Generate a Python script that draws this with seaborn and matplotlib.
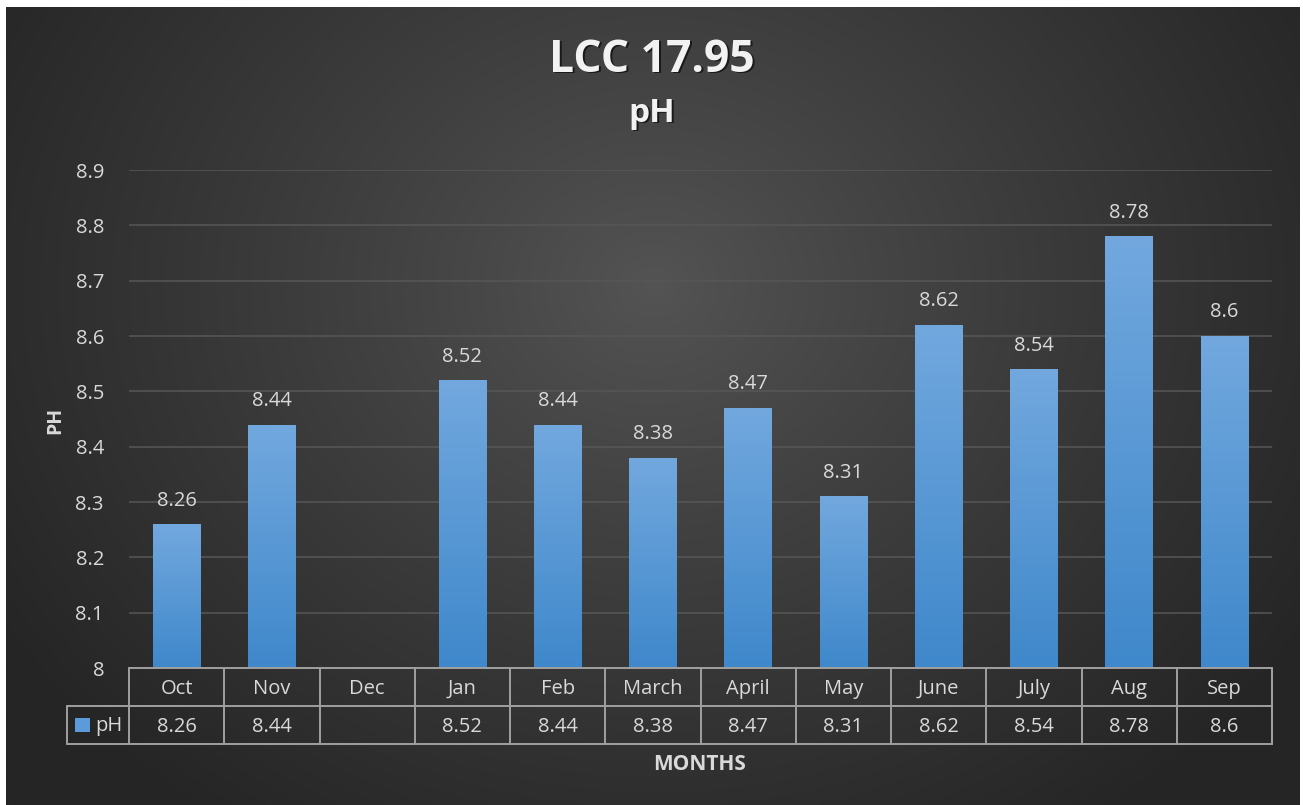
import numpy as np
import pandas as pd
import matplotlib
matplotlib.use("Agg")
import matplotlib.pyplot as plt
import seaborn as sns
from matplotlib.colors import LinearSegmentedColormap

months = ["Oct", "Nov", "Dec", "Jan", "Feb", "March", "April", "May", "June", "July", "Aug", "Sep"]
ph_values = [8.26, 8.44, np.nan, 8.52, 8.44, 8.38, 8.47, 8.31, 8.62, 8.54, 8.78, 8.6]
value_labels = ["8.26", "8.44", "", "8.52", "8.44", "8.38", "8.47", "8.31", "8.62", "8.54", "8.78", "8.6"]
y_ticks = [8.0, 8.1, 8.2, 8.3, 8.4, 8.5, 8.6, 8.7, 8.8, 8.9]
y_tick_labels = ["8", "8.1", "8.2", "8.3", "8.4", "8.5", "8.6", "8.7", "8.8", "8.9"]
series_name = "pH"
title_main = "LCC 17.95"
title_sub = "pH"
x_title = "MONTHS"
y_title = "PH"

sns.set_theme(style="dark")
FONT = ["Open Sans", "DejaVu Sans"]
plt.rcParams["font.family"] = FONT

W, H = 1303, 805
fig = plt.figure(figsize=(W / 100, H / 100), dpi=100, facecolor="white")

# background with radial gradient
bg = fig.add_axes([6 / W, 0, (1300 - 6) / W, (805 - 7) / H])
bg.set_axis_off()
yy, xx = np.mgrid[0:400, 0:650]
cx, cy = 325, 140
r = np.sqrt(((xx - cx) / 390.0) ** 2 + ((yy - cy) / 330.0) ** 2)
t = np.clip(r, 0, 1)
val = 84 - (84 - 37) * t ** 0.9
img = np.dstack([val, val, val]) / 255.0
bg.imshow(img, aspect="auto", extent=[0, 1, 0, 1], interpolation="bilinear")
bg.set_xlim(0, 1)
bg.set_ylim(0, 1)

left, right, bottom, top = 129 / W, 1272 / W, 1 - 668 / H, 1 - 170 / H
ax = fig.add_axes([left, bottom, right - left, top - bottom])
ax.patch.set_alpha(0)

df = pd.DataFrame({"month": months, "pH": ph_values})
sns.barplot(data=df, x="month", y="pH", order=months, color="#4a90d2",
            width=0.5, ax=ax, zorder=3, saturation=1)

ax.set_ylim(8.0, 8.9)
ax.set_xlim(-0.5, len(months) - 0.5)

# gradient fill for bars
cmap = LinearSegmentedColormap.from_list("bar", ["#3f88cb", "#72a8de"])
grad = np.linspace(0, 1, 256).reshape(-1, 1)
for bar in ax.patches:
    h = bar.get_height()
    if not np.isfinite(h) or h <= 0:
        continue
    x0 = bar.get_x()
    w = bar.get_width()
    bar.set_edgecolor("none")
    im = ax.imshow(grad, cmap=cmap, aspect="auto", origin="lower",
                   extent=[x0, x0 + w, 8.0, h], zorder=4)
    im.set_clip_path(bar)
ax.set_ylim(8.0, 8.9)
ax.set_xlim(-0.5, len(months) - 0.5)

# gridlines
ax.set_yticks(y_ticks)
ax.set_yticklabels(y_tick_labels)
ax.yaxis.grid(True, color="#575757", linewidth=1.1)
ax.xaxis.grid(False)
ax.tick_params(axis="y", length=0, pad=18, labelsize=14.5, labelcolor="#d9d9d9")
ax.set_xticks([])
ax.set_xlabel("")
ax.set_ylabel("")
for s in ax.spines.values():
    s.set_visible(False)

# data labels
for i, (v, lab) in enumerate(zip(ph_values, value_labels)):
    if np.isfinite(v):
        ax.annotate(lab, (i, v), xytext=(0, 17), textcoords="offset points",
                    ha="center", va="center", fontsize=14.5, color="#d9d9d9", zorder=5)

# data table below axes
ax_h_px = 668 - 170
row1 = -38 / ax_h_px
row2 = -76 / ax_h_px
lc = "#a0a0a0"
lw = 1.4
n = len(months)
leg_left = -0.5 - (129 - 67) / ((1272 - 129) / n)
kw = dict(color=lc, lw=lw, clip_on=False, zorder=6, transform=ax.get_xaxis_transform())
ax.plot([-0.5, n - 0.5], [0, 0], **kw)
ax.plot([leg_left, n - 0.5], [row1, row1], **kw)
ax.plot([leg_left, n - 0.5], [row2, row2], **kw)
for k in range(n + 1):
    ax.plot([k - 0.5, k - 0.5], [0, row2], **kw)
ax.plot([leg_left, leg_left], [row1, row2], **kw)
ax.plot([n - 0.5, n - 0.5], [0, row2], **kw)

tr = ax.get_xaxis_transform()
shift = -2 / ax_h_px
for i, m in enumerate(months):
    ax.text(i, row1 / 2 + shift, m, ha="center", va="center", fontsize=14.5,
            color="#d9d9d9", transform=tr)
    ax.text(i, (row1 + row2) / 2 + shift, value_labels[i], ha="center", va="center",
            fontsize=14.5, color="#d9d9d9", transform=tr)

# legend key in table
fig.patches.append(plt.Rectangle((75 / W, 1 - 732 / H), 15 / W, 14 / H,
                                 transform=fig.transFigure, facecolor="#5b9bd9",
                                 edgecolor="none", zorder=7))
fig.text(95 / W, 1 - 726 / H, series_name, ha="left", va="center",
         fontsize=14.5, color="#d9d9d9")

# titles
for dx, dy, c in [(1.5, -1.5, "#1a1a1a"), (0, 0, "#f2f2f2")]:
    fig.text(652 / W + dx / W, 1 - 60 / H + dy / H, title_main, ha="center", va="center",
             fontsize=32, fontweight="bold", color=c)
    fig.text(652 / W + dx / W, 1 - 113 / H + dy / H, title_sub, ha="center", va="center",
             fontsize=24, fontweight="bold", color=c)

fig.text(700 / W, 1 - 764 / H, x_title, ha="center", va="center",
         fontsize=15, fontweight="bold", color="#d9d9d9")
fig.text(55 / W, 1 - 420 / H, y_title, ha="center", va="center", rotation=90,
         fontsize=14, fontweight="bold", color="#d9d9d9")

fig.savefig("out.png", dpi=100, facecolor="white")
